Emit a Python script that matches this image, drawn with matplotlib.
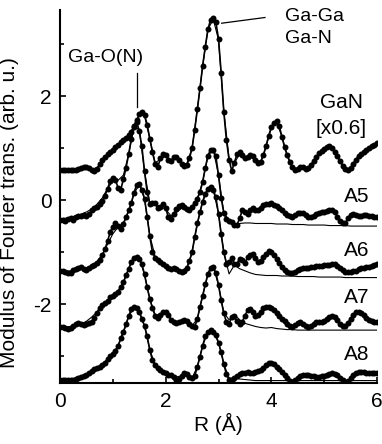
import numpy as np
import matplotlib
matplotlib.use("Agg")
import matplotlib.pyplot as plt

plt.rcParams['font.family'] = ['Liberation Sans', 'DejaVu Sans']
plt.rcParams['axes.unicode_minus'] = False

# R grid of experimental data (Å) and of the fits
R_data = np.linspace(0.0, 6.0, 121)
R_fit = np.linspace(0.0, 6.0, 61)

gan_data = [0.58, 0.58, 0.57, 0.58, 0.58, 0.57, 0.58, 0.59, 0.61, 0.63,
            0.64, 0.62, 0.58, 0.55, 0.60, 0.69, 0.77, 0.83, 0.88, 0.93,
            0.97, 1.02, 1.06, 1.11, 1.15, 1.20, 1.25, 1.31, 1.40, 1.53,
            1.65, 1.70, 1.64, 1.45, 1.18, 0.92, 0.70, 0.63, 0.80, 0.89,
            0.86, 0.77, 0.76, 0.82, 0.83, 0.78, 0.70, 0.65, 0.68, 0.80,
            1.00, 1.35, 1.75, 2.15, 2.58, 2.95, 3.28, 3.47, 3.50, 3.42,
            3.10, 2.45, 1.70, 1.15, 0.78, 0.56, 0.72, 0.88, 0.92, 0.86,
            0.80, 0.82, 0.87, 0.85, 0.78, 0.72, 0.74, 0.86, 1.04, 1.24,
            1.40, 1.49, 1.52, 1.42, 1.22, 1.02, 0.86, 0.73, 0.63, 0.58,
            0.60, 0.63, 0.63, 0.60, 0.62, 0.68, 0.75, 0.83, 0.90, 0.95,
            0.99, 1.02, 1.03, 1.00, 0.93, 0.84, 0.75, 0.66, 0.60, 0.57,
            0.62, 0.70, 0.78, 0.85, 0.88, 0.92, 0.96, 1.00, 1.03, 1.06,
            1.09]

a5_data = [-0.38, -0.38, -0.40, -0.37, -0.35, -0.38, -0.33, -0.30, -0.31, -0.29,
           -0.30, -0.26, -0.20, -0.16, -0.14, -0.07, -0.02, 0.08, 0.22, 0.36,
           0.43, 0.38, 0.24, 0.20, 0.40, 0.62, 0.88, 1.18, 1.42, 1.51,
           1.33, 1.03, 0.55, 0.15, -0.08, -0.06, -0.05, -0.16, -0.14, -0.07,
           -0.15, -0.33, -0.36, -0.27, -0.18, -0.12, -0.10, -0.13, -0.18, -0.19,
           -0.14, -0.06, 0.03, 0.15, 0.35, 0.62, 0.85, 0.97, 0.97, 0.84,
           0.48, 0.04, -0.24, -0.37, -0.40, -0.42, -0.47, -0.48, -0.35, -0.20,
           -0.22, -0.26, -0.19, -0.15, -0.19, -0.20, -0.15, -0.10, -0.08, -0.07,
           -0.06, -0.09, -0.12, -0.16, -0.20, -0.24, -0.28, -0.31, -0.32, -0.29,
           -0.25, -0.24, -0.25, -0.29, -0.32, -0.32, -0.31, -0.27, -0.24, -0.22,
           -0.22, -0.21, -0.20, -0.19, -0.23, -0.32, -0.40, -0.45, -0.44, -0.35,
           -0.28, -0.26, -0.28, -0.30, -0.30, -0.29, -0.29, -0.30, -0.31, -0.32,
           -0.32]

a6_data = [-1.37, -1.37, -1.39, -1.41, -1.40, -1.35, -1.32, -1.30, -1.29, -1.33,
           -1.35, -1.31, -1.26, -1.24, -1.21, -1.15, -1.06, -0.95, -0.79, -0.62,
           -0.51, -0.45, -0.50, -0.55, -0.46, -0.33, -0.20, -0.06, 0.14, 0.29,
           0.31, 0.20, 0.03, -0.32, -0.70, -1.00, -1.12, -1.16, -1.20, -1.22,
           -1.26, -1.30, -1.32, -1.31, -1.33, -1.37, -1.38, -1.37, -1.30, -1.18,
           -1.00, -0.71, -0.45, -0.23, -0.03, 0.12, 0.22, 0.26, 0.20, 0.05,
           -0.26, -0.66, -1.00, -1.22, -1.20, -1.12, -1.22, -1.22, -1.13, -1.15,
           -1.21, -1.10, -1.05, -1.03, -1.12, -1.20, -1.18, -1.10, -1.03, -0.98,
           -1.00, -1.06, -1.13, -1.21, -1.28, -1.34, -1.38, -1.40, -1.41, -1.38,
           -1.34, -1.32, -1.31, -1.30, -1.30, -1.29, -1.28, -1.27, -1.26, -1.26,
           -1.25, -1.24, -1.24, -1.23, -1.23, -1.26, -1.31, -1.35, -1.38, -1.39,
           -1.38, -1.37, -1.36, -1.33, -1.31, -1.30, -1.29, -1.28, -1.26, -1.24,
           -1.22]

a7_data = [-2.44, -2.44, -2.46, -2.47, -2.46, -2.42, -2.38, -2.37, -2.38, -2.40,
           -2.39, -2.37, -2.35, -2.26, -2.17, -2.07, -2.01, -1.98, -1.94, -1.87,
           -1.84, -1.80, -1.76, -1.68, -1.58, -1.45, -1.32, -1.19, -1.11, -1.09,
           -1.13, -1.23, -1.43, -1.68, -1.90, -2.08, -2.22, -2.27, -2.20, -2.15,
           -2.15, -2.21, -2.30, -2.35, -2.37, -2.35, -2.32, -2.31, -2.33, -2.38,
           -2.43, -2.44, -2.28, -2.05, -1.84, -1.62, -1.42, -1.30, -1.29, -1.40,
           -1.63, -1.93, -2.17, -2.35, -2.38, -2.25, -2.23, -2.33, -2.38, -2.34,
           -2.22, -2.12, -2.10, -2.16, -2.22, -2.21, -2.15, -2.08, -2.05, -2.06,
           -2.08, -2.12, -2.17, -2.22, -2.28, -2.33, -2.38, -2.43, -2.44, -2.40,
           -2.36, -2.35, -2.38, -2.42, -2.44, -2.42, -2.38, -2.35, -2.34, -2.35,
           -2.33, -2.29, -2.25, -2.22, -2.24, -2.31, -2.38, -2.43, -2.43, -2.36,
           -2.28, -2.21, -2.16, -2.15, -2.17, -2.21, -2.26, -2.30, -2.33, -2.34,
           -2.34]

a8_data = [-3.46, -3.46, -3.46, -3.46, -3.45, -3.45, -3.44, -3.42, -3.41, -3.39,
           -3.36, -3.32, -3.28, -3.25, -3.22, -3.20, -3.18, -3.14, -3.06, -3.00,
           -2.96, -2.91, -2.80, -2.66, -2.53, -2.39, -2.23, -2.10, -2.05, -2.07,
           -2.15, -2.28, -2.42, -2.62, -2.88, -3.08, -3.18, -3.23, -3.27, -3.30,
           -3.33, -3.36, -3.37, -3.41, -3.45, -3.44, -3.38, -3.33, -3.35, -3.40,
           -3.43, -3.38, -3.20, -3.01, -2.80, -2.62, -2.54, -2.50, -2.53, -2.60,
           -2.74, -2.92, -3.15, -3.35, -3.46, -3.47, -3.42, -3.38, -3.35, -3.33,
           -3.32, -3.31, -3.32, -3.33, -3.31, -3.28, -3.26, -3.22, -3.17, -3.13,
           -3.13, -3.16, -3.20, -3.24, -3.30, -3.37, -3.43, -3.47, -3.49, -3.46,
           -3.42, -3.39, -3.37, -3.37, -3.37, -3.38, -3.39, -3.40, -3.40, -3.39,
           -3.38, -3.36, -3.34, -3.33, -3.34, -3.37, -3.42, -3.46, -3.49, -3.48,
           -3.43, -3.37, -3.32, -3.30, -3.30, -3.31, -3.32, -3.33, -3.33, -3.33,
           -3.33]

gan_fit = [0.58, 0.58, 0.58, 0.58, 0.60, 0.62, 0.60, 0.62, 0.76, 0.88,
           0.97, 1.06, 1.15, 1.25, 1.42, 1.64, 1.62, 1.18, 0.72, 0.78,
           0.85, 0.77, 0.82, 0.70, 0.70, 1.00, 1.75, 2.58, 3.28, 3.48,
           3.08, 1.72, 0.80, 0.70, 0.90, 0.80, 0.86, 0.78, 0.74, 1.03,
           1.39, 1.50, 1.22, 0.86, 0.64, 0.60, 0.63, 0.62, 0.75, 0.90,
           0.99, 1.02, 0.93, 0.75, 0.60, 0.62, 0.78, 0.88, 0.96, 1.03,
           1.09]

a5_fit = [-0.36, -0.35, -0.33, -0.30, -0.27, -0.23, -0.17, -0.08, 0.04, 0.22,
          0.36, 0.38, 0.48, 0.88, 1.40, 1.36, 0.55, -0.05, -0.08, -0.12,
          -0.18, -0.30, -0.24, -0.16, -0.20, -0.12, 0.03, 0.35, 0.85, 0.97,
          0.48, -0.24, -0.40, -0.47, -0.45, -0.44, -0.44, -0.45, -0.45, -0.45,
          -0.45, -0.46, -0.46, -0.46, -0.47, -0.47, -0.47, -0.48, -0.48, -0.48,
          -0.48, -0.49, -0.49, -0.49, -0.49, -0.50, -0.50, -0.50, -0.50, -0.50,
          -0.50]

a6_fit = [-1.37, -1.37, -1.36, -1.34, -1.32, -1.30, -1.26, -1.18, -1.05, -0.85,
          -0.65, -0.52, -0.44, -0.22, 0.12, 0.30, 0.02, -0.68, -1.08, -1.17,
          -1.24, -1.30, -1.30, -1.36, -1.30, -1.00, -0.45, -0.03, 0.22, 0.20,
          -0.26, -1.00, -1.42, -1.25, -1.32, -1.36, -1.40, -1.43, -1.44, -1.45,
          -1.45, -1.45, -1.46, -1.46, -1.46, -1.47, -1.47, -1.47, -1.47, -1.48,
          -1.48, -1.48, -1.48, -1.48, -1.49, -1.49, -1.49, -1.49, -1.49, -1.49,
          -1.49]

a7_fit = [-2.44, -2.44, -2.43, -2.41, -2.38, -2.33, -2.25, -2.15, -2.04, -1.93,
          -1.83, -1.74, -1.58, -1.32, -1.10, -1.12, -1.43, -1.90, -2.20, -2.22,
          -2.18, -2.28, -2.36, -2.33, -2.33, -2.42, -2.28, -1.84, -1.42, -1.29,
          -1.63, -2.17, -2.30, -2.20, -2.30, -2.37, -2.40, -2.43, -2.45, -2.46,
          -2.45, -2.47, -2.48, -2.49, -2.49, -2.50, -2.50, -2.50, -2.50, -2.50,
          -2.50, -2.50, -2.50, -2.50, -2.50, -2.50, -2.50, -2.50, -2.50, -2.50,
          -2.50]

a8_fit = [-3.46, -3.46, -3.45, -3.43, -3.40, -3.35, -3.29, -3.22, -3.15, -3.06,
          -2.95, -2.80, -2.55, -2.24, -2.06, -2.15, -2.42, -2.88, -3.16, -3.25,
          -3.32, -3.36, -3.40, -3.38, -3.38, -3.42, -3.20, -2.80, -2.54, -2.53,
          -2.74, -3.15, -3.42, -3.42, -3.44, -3.45, -3.46, -3.47, -3.47, -3.47,
          -3.47, -3.47, -3.47, -3.47, -3.47, -3.47, -3.47, -3.47, -3.47, -3.47,
          -3.47, -3.47, -3.47, -3.47, -3.47, -3.47, -3.47, -3.47, -3.47, -3.47,
          -3.47]

series = [("GaN", gan_data, gan_fit), ("A5", a5_data, a5_fit),
          ("A6", a6_data, a6_fit), ("A7", a7_data, a7_fit),
          ("A8", a8_data, a8_fit)]

fig = plt.figure(figsize=(3.82, 4.44), dpi=100)
ax = fig.add_axes([0.157, 0.137, 0.83, 0.84])

for name, d, f in series:
    ax.plot(R_fit, f, color='black', lw=0.8, zorder=2)
    ax.plot(R_data, d, color='black', lw=1.2, marker='o', ms=4.3,
            mfc='black', mec='black', mew=0, zorder=3)

ax.set_xlim(0, 6)
ax.set_ylim(-3.52, 3.65)
ax.set_xticks([0, 2, 4, 6])
ax.set_xticks([1, 3, 5], minor=True)
ax.set_yticks([-2, 0, 2])
ax.set_yticks([-3, -1, 1, 3], minor=True)
for s in ['top', 'right']:
    ax.spines[s].set_visible(False)
for s in ['left', 'bottom']:
    ax.spines[s].set_linewidth(1.5)
ax.tick_params(which='major', direction='in', length=4, width=1.2,
               labelsize=15, pad=6)
ax.tick_params(which='minor', direction='in', length=3, width=1.2)

ax.set_xlabel('R (Å)', fontsize=15, labelpad=2)
ax.set_ylabel('Modulus of Fourier trans. (arb. u.)', fontsize=15)
ax.yaxis.set_label_coords(-0.128, 0.457)

# annotations
ax.text(0.87, 2.74, 'Ga-O(N)', fontsize=14, ha='center', va='center')
ax.plot([1.45, 1.45], [2.44, 1.79], color='black', lw=0.9)
ax.text(4.26, 3.52, 'Ga-Ga', fontsize=14, ha='left', va='center')
ax.text(4.26, 3.10, 'Ga-N', fontsize=14, ha='left', va='center')
ax.plot([3.06, 3.88], [3.40, 3.51], color='black', lw=0.9)

ax.text(5.32, 1.87, 'GaN', fontsize=15, ha='center', va='center')
ax.text(5.32, 1.38, '[x0.6]', fontsize=15, ha='center', va='center')
ax.text(5.85, 0.06, 'A5', fontsize=15, ha='right', va='center')
ax.text(5.85, -0.96, 'A6', fontsize=15, ha='right', va='center')
ax.text(5.85, -1.88, 'A7', fontsize=15, ha='right', va='center')
ax.text(5.85, -2.96, 'A8', fontsize=15, ha='right', va='center')

fig.savefig('out.png', dpi=100)
